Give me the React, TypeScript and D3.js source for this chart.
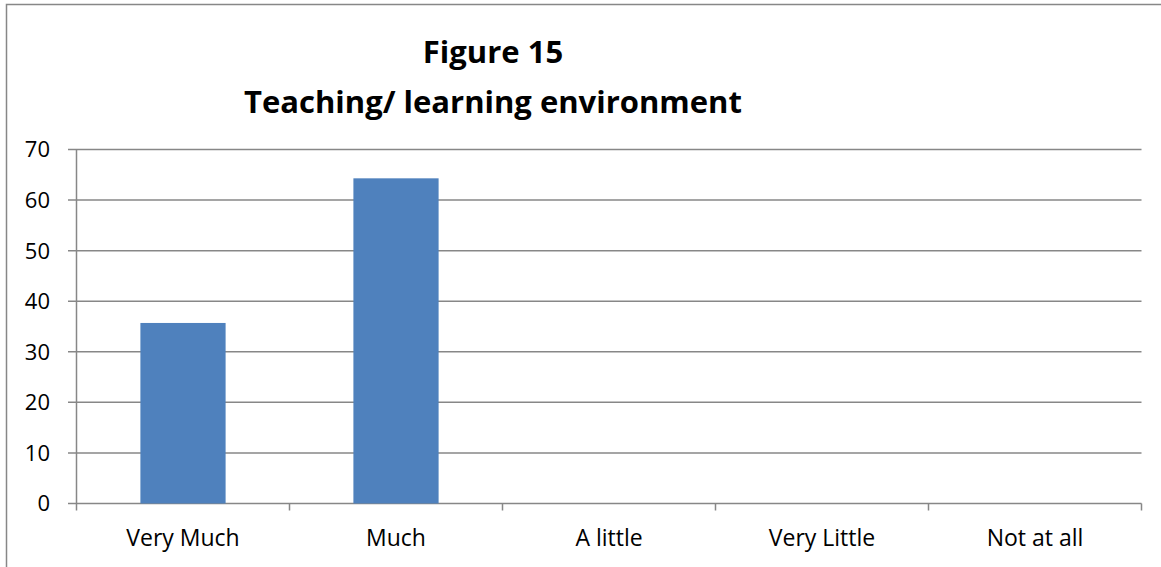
import React from "react";
import * as d3 from "d3";

const categories = ["Very Much", "Much", "A little", "Very Little", "Not at all"];
const values = [35.7, 64.3, 0, 0, 0];
const yTicks = [0, 10, 20, 30, 40, 50, 60, 70];
const titleLines = ["Figure 15", "Teaching/ learning environment"];

const W = 1161;
const H = 567;
const plot = { left: 76.5, right: 1141.5, top: 149.5, bottom: 503.5 };
const FONT = "'Open Sans', Lato, sans-serif";
const GRID = "#878787";

export default function App() {
  const x = d3
    .scaleBand<string>()
    .domain(categories)
    .range([plot.left, plot.right])
    .paddingInner(0.6)
    .paddingOuter(0.3);
  const y = d3.scaleLinear().domain([0, 70]).range([plot.bottom, plot.top]);
  const step = x.step();
  const boundaries = d3.range(categories.length + 1).map((i) => plot.left + i * step);

  return (
    <svg
      width={W}
      height={H}
      style={{ position: "absolute", left: 0, top: 0, background: "#fff" }}
    >
      <rect x={6.5} y={4.5} width={W + 20} height={H + 20} fill="#fff" stroke={GRID} strokeWidth={1.5} />
      {titleLines.map((t, i) => (
        <text
          key={t}
          x={493}
          y={63 + i * 50}
          textAnchor="middle"
          fontFamily={FONT}
          fontWeight="bold"
          fontSize={31}
          fill="#000"
        >
          {t}
        </text>
      ))}
      {yTicks.map((v) => (
        <g key={v}>
          <line x1={68} x2={plot.right} y1={y(v)} y2={y(v)} stroke={GRID} strokeWidth={1.5} />
          <text
            x={50}
            y={y(v)}
            dy="0.36em"
            textAnchor="end"
            fontFamily={FONT}
            fontSize={22}
            fill="#000"
          >
            {v}
          </text>
        </g>
      ))}
      <line x1={plot.left} x2={plot.left} y1={plot.top} y2={plot.bottom} stroke={GRID} strokeWidth={1.5} />
      {boundaries.map((bx, i) => (
        <line key={i} x1={bx} x2={bx} y1={plot.bottom} y2={plot.bottom + 7} stroke={GRID} strokeWidth={1.5} />
      ))}
      {categories.map((c, i) => (
        <rect
          key={c}
          x={x(c)}
          y={y(values[i])}
          width={x.bandwidth()}
          height={plot.bottom - y(values[i])}
          fill="#4F81BD"
        />
      ))}
      {categories.map((c) => (
        <text
          key={c}
          x={(x(c) as number) + x.bandwidth() / 2}
          y={546}
          textAnchor="middle"
          fontFamily={FONT}
          fontSize={23}
          fill="#000"
        >
          {c}
        </text>
      ))}
    </svg>
  );
}
